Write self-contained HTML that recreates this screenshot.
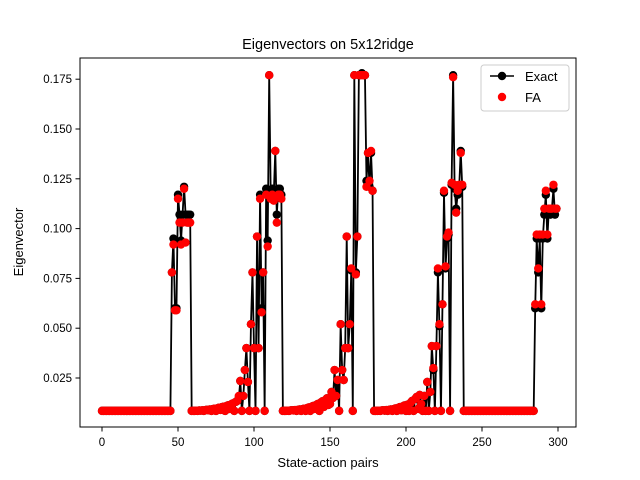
<!DOCTYPE html>
<html><head><meta charset="utf-8"><style>body{margin:0;background:#fff}svg{display:block;font-family:"Liberation Sans","DejaVu Sans",sans-serif}</style></head>
<body>
<svg id="chart" width="640" height="480" viewBox="0 0 640 480" xmlns="http://www.w3.org/2000/svg">
<rect width="640" height="480" fill="#fff"/>
<text x="328" y="49" font-size="14.5" text-anchor="middle">Eigenvectors on 5x12ridge</text>
<g id="plot"></g>
<rect x="80" y="58" width="496" height="369" fill="none" stroke="#000" stroke-width="1"/>
<g id="axes"></g>
<text x="328" y="467" font-size="13" text-anchor="middle">State-action pairs</text>
<text transform="translate(23,242) rotate(-90)" font-size="13" text-anchor="middle">Eigenvector</text>
<g>
<rect x="481" y="65" width="88" height="46" rx="3" fill="#fff" fill-opacity="0.8" stroke="#ccc"/>
<line x1="490" y1="76" x2="514" y2="76" stroke="#000" stroke-width="1.5"/>
<circle cx="502" cy="76" r="4.2" fill="#000"/>
<text x="525" y="81" font-size="13">Exact</text>
<circle cx="502" cy="97" r="4.2" fill="red"/>
<text x="525" y="102" font-size="13">FA</text>
</g>
</svg>
<script>
const B=0.0085;
const exactA=[B,B,B,B,B,B,B,B,B,B, B,B,B,B,B,B,B,B,B,B, B,B,B,B,B,B,B,B,B,B, B,B,B,B,B,B,B,B,B,B, B,B,B,B,B,B,0.078,0.095,0.060,0.060,
0.117,0.107,0.094,0.107,0.121,0.107,0.107,0.107,0.107,B,
0.0085,0.0085,0.0086,0.0085,0.0087,0.0086,0.0088,0.0085,0.0089,0.009, 0.0088,0.0092,0.0085,0.0094,0.0096,0.0085,0.0098,0.0101,0.009,0.0104, 0.0106,0.0085,0.011,0.0113,0.0095,0.0118,0.0122,0.0085,0.013,0.0135,
0.015,0.0235,0.0085,0.016,0.029,0.040,0.023,0.0085,0.052,0.078, 0.040,0.0085,0.096,0.040,0.117,0.060,0.078,0.0085,0.120,0.094, 0.177,0.117,0.120,0.117,0.139,0.107,0.120,0.120,0.117,B];
const exactB=[0.0085,0.0085,0.0086,0.0085,0.0087,0.0088,0.0087,0.0089,0.0085,0.009, 0.0092,0.0085,0.0094,0.0096,0.0085,0.0099,0.0102,0.0085,0.0106,0.011, 0.0095,0.0115,0.012,0.0085,0.0127,0.0133,0.0105,0.014,0.0148,0.0115,
0.012,0.018,0.015,0.029,0.016,0.024,0.0085,0.052,0.029,0.024, 0.040,0.096,0.040,0.052,0.079,0.0085,0.177,0.078,0.096,0.177, 0.177,0.178,0.177,0.177,0.124,0.138,0.121,0.138,0.119,B,
0.0085,0.0085,0.0086,0.0085,0.0087,0.0088,0.0086,0.0089,0.0085,0.009, 0.0092,0.0085,0.0094,0.0097,0.0085,0.01,0.0104,0.0088,0.0108,0.0112, 0.0085,0.0116,0.0085,0.0125,0.0135,0.0085,0.0145,0.0155,0.0095,0.0165,
0.012,0.0085,0.016,0.0085,0.023,0.0085,0.018,0.041,0.029,0.0085, 0.041,0.078,0.051,0.0085,0.062,0.118,0.080,0.095,0.097,0.0085, 0.122,0.177,0.120,0.110,0.117,0.121,0.139,0.121,B,B,
B,B,B,B,B,B,B,B,B,B, B,B,B,B,B,B,B,B,B,B, B,B,B,B,B,B,B,B,B,B, B,B,B,B,B,B,B,B,B,B, B,B,B,B,B,0.060,0.095,0.078,0.095,0.060,
0.095,0.107,0.117,0.095,0.110,0.107,0.110,0.120,0.107,0.110];
const exact=exactA.concat(exactB);
const faA=[B,B,B,B,B,B,B,B,B,B, B,B,B,B,B,B,B,B,B,B, B,B,B,B,B,B,B,B,B,B, B,B,B,B,B,B,B,B,B,B, B,B,B,B,B,B,0.078,0.092,0.059,0.059,
0.115,0.103,0.092,0.103,0.120,0.093,0.103,0.103,0.103,B,
0.0085,0.0085,0.0086,0.0085,0.0087,0.0086,0.0088,0.0085,0.0089,0.009, 0.0088,0.0092,0.0085,0.0094,0.0096,0.0085,0.0098,0.0101,0.009,0.0104, 0.0106,0.0085,0.011,0.0113,0.0095,0.0118,0.0122,0.0085,0.013,0.0135,
0.016,0.0235,0.0085,0.016,0.029,0.040,0.023,0.0085,0.052,0.078, 0.040,0.0085,0.096,0.040,0.115,0.058,0.078,0.0085,0.117,0.091, 0.177,0.115,0.117,0.114,0.139,0.103,0.117,0.117,0.115,B];
const faB=[0.0085,0.0085,0.0086,0.0085,0.0087,0.0088,0.0087,0.0089,0.0085,0.009, 0.0092,0.0085,0.0094,0.0096,0.0085,0.0099,0.0102,0.0085,0.0106,0.011, 0.0095,0.0115,0.012,0.0085,0.0127,0.0133,0.0105,0.014,0.0148,0.0115,
0.012,0.018,0.015,0.029,0.016,0.024,0.0085,0.052,0.029,0.024, 0.040,0.096,0.040,0.052,0.080,0.0085,0.177,0.077,0.096,0.177, 0.177,0.177,0.177,0.177,0.121,0.138,0.124,0.139,0.119,B,
0.0085,0.0085,0.0086,0.0085,0.0087,0.0088,0.0086,0.0089,0.0085,0.009, 0.0092,0.0085,0.0094,0.0097,0.0085,0.01,0.0104,0.0088,0.0108,0.0112, 0.0085,0.0116,0.0085,0.0125,0.0135,0.0085,0.0145,0.0155,0.0095,0.0165,
0.012,0.0085,0.016,0.0085,0.023,0.0085,0.018,0.041,0.030,0.0085, 0.041,0.080,0.052,0.0085,0.062,0.119,0.081,0.096,0.098,0.0085, 0.123,0.176,0.122,0.108,0.119,0.122,0.138,0.122,B,B,
B,B,B,B,B,B,B,B,B,B, B,B,B,B,B,B,B,B,B,B, B,B,B,B,B,B,B,B,B,B, B,B,B,B,B,B,B,B,B,B, B,B,B,B,B,0.062,0.097,0.080,0.097,0.062,
0.097,0.110,0.119,0.097,0.110,0.110,0.110,0.122,0.110,0.110];
const fa=faA.concat(faB);
const xTicks=[0,50,100,150,200,250,300];
const yTicks=[0.025,0.050,0.075,0.100,0.125,0.150,0.175];
const yTickLabels=["0.025","0.050","0.075","0.100","0.125","0.150","0.175"];

const NS="http://www.w3.org/2000/svg";
const xs=v=>102+v*1.52;
const ys=v=>378-(v-0.025)/0.025*49.8;
function mk(tag,attrs,parent){const e=document.createElementNS(NS,tag);for(const k in attrs)e.setAttribute(k,attrs[k]);parent.appendChild(e);return e;}
const plot=document.getElementById('plot'), axes=document.getElementById('axes');
const pts=exact.map((v,i)=>xs(i).toFixed(2)+','+ys(v).toFixed(2)).join(' ');
const line=mk('polyline',{points:pts,fill:'none',stroke:'#000','stroke-width':1.8,'stroke-linejoin':'round'},plot);


exact.forEach((v,i)=>{const c=mk('circle',{cx:xs(i),cy:ys(v),r:4.2,fill:'#000'},plot);

});
fa.forEach((v,i)=>{const c=mk('circle',{cx:xs(i),cy:ys(v),r:4.2,fill:'red'},plot);

});
xTicks.forEach(t=>{const x=xs(t);
const l=mk('line',{x1:x,x2:x,y1:427,y2:431.5,stroke:'#000'},axes);


const tx=mk('text',{x:x,y:446,'font-size':11.5,'text-anchor':'middle'},axes);tx.textContent=t;

});
yTicks.forEach((t,i)=>{const y=ys(t);
const l=mk('line',{x1:75.5,x2:80,y1:y,y2:y,stroke:'#000'},axes);


const tx=mk('text',{x:72,y:y+4,'font-size':11.5,'text-anchor':'end'},axes);tx.textContent=yTickLabels[i];

});
</script>
</body></html>
